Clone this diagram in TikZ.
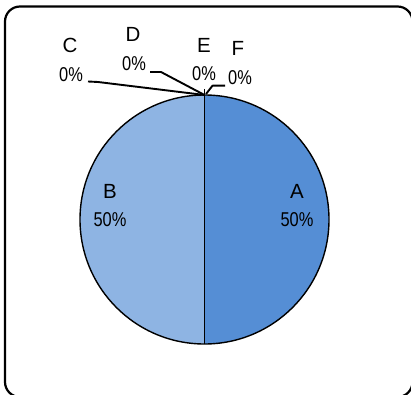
\documentclass[tikz,border=0pt]{standalone}
\usepackage{fontspec}
\setmainfont{Liberation Sans}
\newfontfamily\narrowfont[FakeStretch=0.82]{Liberation Sans}
\definecolor{sliceA}{RGB}{85,142,213}
\definecolor{sliceB}{RGB}{142,180,227}
\begin{document}
\begin{tikzpicture}[x=1pt,y=1pt,
  lbl/.style={inner sep=0pt,font=\fontsize{20.5}{20.5}\selectfont},
  pct/.style={inner sep=0pt,font=\fontsize{20}{20}\selectfont\narrowfont},
  leader/.style={line width=1.9pt,line join=round},
  slice/.style={draw=black,line width=1.4pt}]
\useasboundingbox (0,0) rectangle (411,394);
\clip (0,0) rectangle (411,394);
\fill[white] (0,0) rectangle (411,394);
\draw[line width=2.2pt,rounded corners=15pt] (5,-3) rectangle (412.5,387.5);
% pie
\coordinate (ctr) at (204.5,174.5);
\coordinate (top) at (204.5,299);
\fill[sliceA] (ctr) -- (top) arc[start angle=90,end angle=-90,radius=124.5] -- cycle;
\fill[sliceB] (ctr) -- (top) arc[start angle=90,end angle=270,radius=124.5] -- cycle;
\draw[slice] (ctr) circle[radius=124.5];
\draw[slice] (top) -- (204.5,50);
% labels
\node[lbl] (Cn) at (70,349) {C};
\node[pct] (Cp) at (71,319) {0\%};
\node[lbl] (Dn) at (133,360) {D};
\node[pct] (Dp) at (134,330) {0\%};
\node[lbl] (En) at (204,349) {E};
\node[pct] (Ep) at (204,320) {0\%};
\node[lbl] (Fn) at (238,346) {F};
\node[pct] (Fp) at (240,316) {0\%};
\node[lbl] (An) at (297,203) {A};
\node[pct] (Ap) at (297,174) {50\%};
\node[lbl] (Bn) at (110,203) {B};
\node[pct] (Bp) at (110,174) {50\%};
% leaders
\coordinate (c1) at (88,312.5);
\coordinate (c2) at (98,312);
\coordinate (d1) at (150,322);
\coordinate (d2) at (161,322);
\coordinate (e1) at (204.5,305);
\coordinate (f1) at (225,308.3);
\coordinate (f2) at (212.5,308.3);
\coordinate (f3) at (206,300);
\draw[leader] (c1) -- (c2) -- (top);
\draw[leader] (d1) -- (d2) -- (top);
\draw[leader] (e1) -- (top);
\draw[leader] (f1) -- (f2) -- (f3);
\end{tikzpicture}
\end{document}
